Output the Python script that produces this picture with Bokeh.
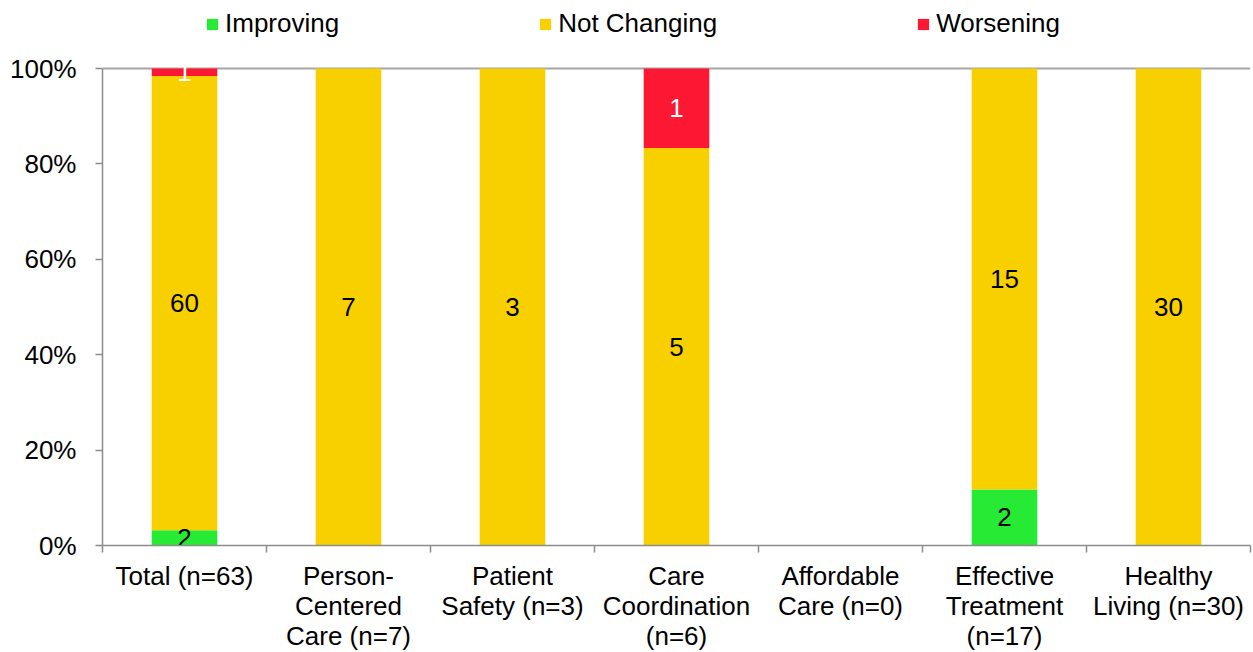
import numpy as np
from bokeh.plotting import figure
from bokeh.models import (ColumnDataSource, FixedTicker, NumeralTickFormatter, Legend,
                          LegendItem, Range1d)
from bokeh.core.properties import value
from bokeh.embed import file_html
from bokeh.resources import INLINE

# ---- data ----
categories = ["Total (n=63)", "Person-\nCentered\nCare (n=7)", "Patient\nSafety (n=3)",
              "Care\nCoordination\n(n=6)", "Affordable\nCare (n=0)",
              "Effective\nTreatment\n(n=17)", "Healthy\nLiving (n=30)"]
improving = [2, 0, 0, 0, 0, 2, 0]
not_changing = [60, 7, 3, 5, 0, 15, 30]
worsening = [1, 0, 0, 1, 0, 0, 0]
series_names = ["Improving", "Not Changing", "Worsening"]
y_ticks = [0.0, 0.2, 0.4, 0.6, 0.8, 1.0]

# ---- styles ----
colors = ["#27EA35", "#F8D000", "#FC1733"]
label_colors = ["black", "black", "white"]
FONT = "Liberation Sans"
FS = "26px"
GRAY = "#8C8C8C"

counts = np.array([improving, not_changing, worsening], dtype=float)
totals = counts.sum(axis=0)
fracs = np.divide(counts, totals, out=np.zeros_like(counts), where=totals > 0)
xpos = np.arange(len(categories)) + 0.5
keys = ["s0", "s1", "s2"]

src = ColumnDataSource(dict(x=xpos, s0=fracs[0], s1=fracs[1], s2=fracs[2]))

PLOT_H = 477       # pixels from 0% to 100%
TOP_EXTRA = 60     # pixels above 100% (legend area)
p = figure(frame_width=1148, frame_height=PLOT_H + TOP_EXTRA,
           x_range=Range1d(0, len(categories)), y_range=Range1d(0, 1 + TOP_EXTRA / PLOT_H),
           output_backend="svg", toolbar_location=None,
           min_border_left=102, min_border_right=2, min_border_top=8, min_border_bottom=107)
p.outline_line_color = None
p.background_fill_color = "white"
p.border_fill_color = "white"

rs = p.vbar_stack(keys, x="x", width=0.4, color=colors, line_color=None, source=src)

# data labels
lx, ly, lt, lc = [], [], [], []
cum = np.zeros(len(categories))
for i in range(3):
    for j in range(len(categories)):
        if counts[i, j] > 0:
            lx.append(xpos[j])
            ly.append(cum[j] + fracs[i, j] / 2)
            lt.append(str(int(counts[i, j])))
            lc.append(label_colors[i])
    cum = cum + fracs[i]
lsrc = ColumnDataSource(dict(x=lx, y=ly, t=lt, c=lc))
p.text(x="x", y="y", text="t", text_color="c", source=lsrc, text_align="center",
       text_baseline="middle", text_font=value(FONT), text_font_size=FS)

# grid
p.xgrid.visible = False
p.ygrid.ticker = FixedTicker(ticks=[1.0])
p.ygrid.grid_line_color = "#A6A6A6"
p.ygrid.grid_line_width = 2

# x axis
xa = p.xaxis[0]
xa.ticker = FixedTicker(ticks=list(xpos), minor_ticks=list(range(len(categories) + 1)))
xa.major_label_overrides = {float(x): c for x, c in zip(xpos, categories)}
xa.major_tick_in = 0
xa.major_tick_out = 0
xa.minor_tick_in = 0
xa.minor_tick_out = 7
xa.minor_tick_line_color = GRAY
xa.minor_tick_line_width = 1.5
xa.axis_line_color = GRAY
xa.axis_line_width = 1.5
xa.major_label_text_font = FONT
xa.major_label_text_font_size = FS
xa.major_label_text_color = "black"
xa.major_label_standoff = 8
xa.major_label_text_line_height = 1.0

# y axis
ya = p.yaxis[0]
ya.ticker = FixedTicker(ticks=y_ticks)
ya.formatter = NumeralTickFormatter(format="0%")
ya.bounds = (0, 1)
ya.major_tick_in = 0
ya.major_tick_out = 7
ya.minor_tick_line_color = None
ya.major_tick_line_color = GRAY
ya.major_tick_line_width = 1.5
ya.axis_line_color = GRAY
ya.axis_line_width = 1.5
ya.major_label_text_font = FONT
ya.major_label_text_font_size = FS
ya.major_label_text_color = "black"
ya.major_label_standoff = 19

# legend
legend = Legend(items=[LegendItem(label=n, renderers=[r]) for n, r in zip(series_names, rs)],
                orientation="horizontal", location=(103, 506),
                glyph_width=14, glyph_height=14, label_standoff=6, spacing=199,
                padding=0, margin=0, border_line_color=None, background_fill_alpha=0,
                label_text_font=FONT, label_text_font_size=FS, label_text_color="black")
p.add_layout(legend, "center")

open("out.html", "w").write(file_html(p, INLINE))
